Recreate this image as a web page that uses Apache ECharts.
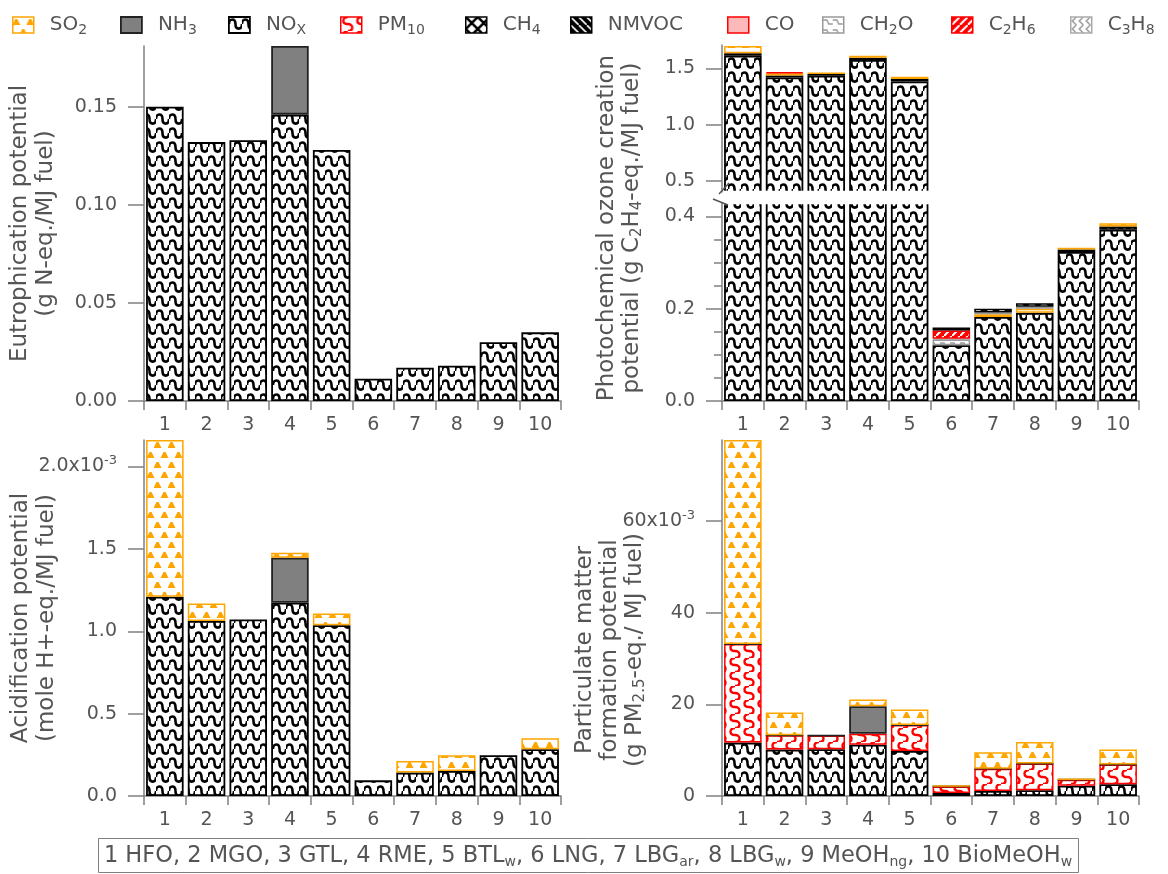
<!DOCTYPE html>
<html>
<head>
<meta charset="utf-8">
<script src="https://cdn.jsdelivr.net/npm/echarts@6.0.0/dist/echarts.min.js"></script>
<style>
html,body{margin:0;padding:0;background:#fff;}
#chart{width:1168px;height:874px;}
</style>
</head>
<body>
<div id="chart"></div>
<script>
// ---------------- data ----------------
const categories = ['1','2','3','4','5','6','7','8','9','10'];
const fuelNames = ['HFO','MGO','GTL','RME','BTL{s|w}','LNG','LBG{s|ar}','LBG{s|w}','MeOH{s|ng}','BioMeOH{s|w}'];

// Eutrophication potential (g N-eq./MJ fuel)
const epNOx = [0.150,0.132,0.133,0.146,0.128,0.0114,0.017,0.018,0.030,0.035];
const epNH3 = [null,null,null,0.035,null,null,null,null,null,null];

// Photochemical ozone creation potential (g C2H4-eq./MJ fuel)
const pocpNOx   = [1.613,1.420,1.435,1.575,1.385,0.121,0.182,0.191,0.323,0.371];
const pocpNMVOC = [0.022,0.018,0.015,0.020,0.022,null,null,null,0.005,0.007];
const pocpSO2   = [0.065,0.020,0.015,0.018,0.020,null,0.006,0.009,0.004,0.007];
const pocpCO    = [null,0.010,null,null,null,null,null,null,null,null];
const pocpCH2O  = [null,null,null,null,null,0.012,0.004,0.004,null,null];
const pocpC3H8  = [null,null,null,null,null,0.002,null,null,null,null];
const pocpC2H6  = [null,null,null,null,null,0.018,null,null,null,null];
const pocpCH4   = [null,null,null,null,null,0.006,0.008,0.008,null,null];

// Acidification potential (x10^-3 mole H+-eq./MJ fuel)
const apNOx = [1.210,1.063,1.072,1.173,1.037,0.095,0.142,0.152,0.247,0.284];
const apNH3 = [null,null,null,0.273,null,null,null,null,null,null];
const apSO2 = [0.951,0.106,null,0.030,0.071,null,0.071,0.095,null,0.066];

// Particulate matter formation potential (x10^-3 g PM2.5-eq./MJ fuel)
const pmNOx  = [11.66,10.13,10.20,11.20,9.84,0.66,1.09,1.24,2.26,2.55];
const pmPM10 = [21.49,3.13,2.99,2.40,5.66,1.44,4.88,5.83,1.31,4.30];
const pmNH3  = [0,0,0,6.00,0,0,0,0,0,0];
const pmSO2  = [44.55,4.94,null,1.45,3.40,0.16,3.57,4.73,0.13,3.28];

// tick labels
const epTicks = [0, 0.05, 0.10, 0.15];
const pocpUpperTicks = [0.5, 1.0, 1.5];
const pocpLowerTicks = [0, 0.2, 0.4];
const apTicks = [0, 0.5, 1.0, 1.5, 2.0];
const pmTicks = [0, 20, 40, 60];

const legendOrder = ['SO2','NH3','NOx','PM10','CH4','NMVOC','CO','CH2O','C2H6','C3H8'];
const legendLabels = {SO2:'SO{s|2}', NH3:'NH{s|3}', NOx:'NO{s|X}', PM10:'PM{s|10}', CH4:'CH{s|4}',
  NMVOC:'NMVOC', CO:'CO', CH2O:'CH{s|2}O', C2H6:'C{s|2}H{s|6}', C3H8:'C{s|3}H{s|8}'};

// ---------------- styles ----------------
const FONT = 'DejaVu Sans';
const TXT = '#555555';
const AX = '#808080';
const ORANGE = '#FFA500';
const RED = '#FF0000';

function tile(w, h, bg, draw) {
  const c = document.createElement('canvas');
  c.width = w; c.height = h;
  const g = c.getContext('2d');
  if (bg) { g.fillStyle = bg; g.fillRect(0, 0, w, h); }
  draw(g, w, h);
  return {image: c, repeat: 'repeat'};
}
const PAT = {
  NOx: tile(13, 14, '#fff', g => {
    g.strokeStyle = '#000'; g.lineWidth = 2.6; g.beginPath();
    g.moveTo(0, 7);
    g.bezierCurveTo(0, 0.9, 6.5, 0.9, 6.5, 7);
    g.bezierCurveTo(6.5, 13.1, 13, 13.1, 13, 7);
    g.stroke();
  }),
  PM10: tile(14, 14, '#fff', g => {
    g.strokeStyle = RED; g.lineWidth = 2.4; g.beginPath();
    g.moveTo(7, 0);
    g.bezierCurveTo(1, 0, 1, 7, 7, 7);
    g.bezierCurveTo(13, 7, 13, 14, 7, 14);
    g.stroke();
  }),
  SO2: tile(14, 20, '#fff', g => {
    g.fillStyle = ORANGE;
    const tri = (cx, ty) => { g.beginPath(); g.moveTo(cx - 4, ty + 6); g.lineTo(cx - 1, ty); g.lineTo(cx + 1, ty); g.lineTo(cx + 4, ty + 6); g.closePath(); g.fill(); };
    tri(3.5, 2); tri(10.5, 12); tri(-3.5, 12); tri(17.5, 12);
  }),
  NH3: '#808080',
  CH4: tile(12, 12, '#fff', g => {
    g.strokeStyle = '#000'; g.lineWidth = 2.6; g.beginPath();
    g.moveTo(-1, -1); g.lineTo(13, 13); g.moveTo(13, -1); g.lineTo(-1, 13); g.stroke();
  }),
  NMVOC: tile(8, 8, '#000', g => {
    g.strokeStyle = '#fff'; g.lineWidth = 1.6; g.beginPath();
    g.moveTo(-1, -1); g.lineTo(9, 9); g.stroke();
  }),
  CO: '#FBB9B9',
  CH2O: tile(10, 10, '#fff', g => {
    g.strokeStyle = '#999'; g.lineWidth = 1.5; g.beginPath();
    g.moveTo(0, 3); g.lineTo(4, 3); g.lineTo(6, 7); g.lineTo(10, 7); g.stroke();
  }),
  C2H6: tile(8, 8, RED, g => {
    g.strokeStyle = '#fff'; g.lineWidth = 2; g.beginPath();
    g.moveTo(-1, 9); g.lineTo(9, -1); g.stroke();
  }),
  C3H8: tile(7, 8, '#fff', g => {
    g.strokeStyle = '#999'; g.lineWidth = 1.5; g.beginPath();
    g.moveTo(5.5, 0); g.lineTo(1.5, 4); g.lineTo(5.5, 8); g.stroke();
  })
};
const STYLE = {
  SO2:  {fill: PAT.SO2,  stroke: ORANGE, w: 1.5},
  NH3:  {fill: PAT.NH3,  stroke: '#222', w: 1.8},
  NOx:  {fill: PAT.NOx,  stroke: '#000', w: 1.8},
  PM10: {fill: PAT.PM10, stroke: RED, w: 1.5},
  CH4:  {fill: PAT.CH4,  stroke: '#000', w: 1.5},
  NMVOC:{fill: PAT.NMVOC,stroke: '#000', w: 1.5},
  CO:   {fill: PAT.CO,   stroke: RED, w: 1.5},
  CH2O: {fill: PAT.CH2O, stroke: '#999', w: 1.5},
  C2H6: {fill: PAT.C2H6, stroke: RED, w: 1.5},
  C3H8: {fill: PAT.C3H8, stroke: '#aaa', w: 1.5}
};

// ---------------- layout ----------------
const LX = 144, RX = 722, GW = 417;
const grids = [
  {left: LX, top: 46, width: GW, height: 355},   // 0 eutrophication
  {left: RX, top: 45, width: GW, height: 147},   // 1 POCP upper segment
  {left: RX, top: 203, width: GW, height: 198},  // 2 POCP lower segment
  {left: LX, top: 440, width: GW, height: 356},  // 3 acidification
  {left: RX, top: 440, width: GW, height: 356},  // 4 particulate matter
  {left: RX, top: 55, width: GW, height: 346},   // 5 holder for POCP title
  {left: RX, top: 440, width: GW, height: 420}   // 6 holder for PM title
].map(g => Object.assign({outerBoundsMode: 'none', containLabel: false}, g));

const subRich = {s: {fontSize: 15, lineHeight: 15, verticalAlign: 'bottom', color: TXT, fontFamily: FONT}};
function nameStyle(lh) { return {color: TXT, fontFamily: FONT, fontSize: 23, lineHeight: lh, rich: subRich}; }

function xAx(gi, show) {
  return {
    gridIndex: gi, type: 'category', data: categories, show: show,
    axisLine: {show: true, onZero: false, lineStyle: {color: AX, width: 1.5}},
    axisTick: {show: true, length: 9, interval: 0, lineStyle: {color: AX, width: 1.5}},
    axisLabel: {show: true, interval: 0, margin: 15, color: TXT, fontFamily: FONT, fontSize: 19},
    splitLine: {show: false}
  };
}
function yAx(gi, min, max, ticks, fmt, extra) {
  return Object.assign({
    gridIndex: gi, type: 'value', min: min, max: max, nameMoveOverlap: false,
    axisLine: {show: true, lineStyle: {color: AX, width: 1.5}},
    axisTick: {show: true, length: 16, customValues: ticks, lineStyle: {color: AX, width: 1.5}},
    axisLabel: {customValues: ticks, formatter: fmt, margin: 27, color: TXT, fontFamily: FONT, fontSize: 19, lineHeight: 24,
      rich: {sup: {fontSize: 13, lineHeight: 13, verticalAlign: 'top', color: TXT, fontFamily: FONT}}},
    splitLine: {show: false}
  }, extra || {});
}
function holderY(gi, name, gap, lh) {
  return {gridIndex: gi, type: 'value', min: 0, max: 1, nameMoveOverlap: false,
    axisLine: {show: false}, axisTick: {show: false}, axisLabel: {show: false}, splitLine: {show: false},
    name: name, nameLocation: 'middle', nameRotate: 90, nameGap: gap, nameTextStyle: nameStyle(lh)};
}
function holderX(gi) {
  return {gridIndex: gi, type: 'category', data: categories, show: false};
}

const xAxis = [xAx(0, true), xAx(1, false), xAx(2, true), xAx(3, true), xAx(4, true), holderX(5), holderX(6)];
const yAxis = [
  yAx(0, 0, 0.181, epTicks, v => v.toFixed(2), {
    name: 'Eutrophication potential\n(g N-eq./MJ fuel)', nameLocation: 'middle', nameRotate: 90, nameGap: 85, nameTextStyle: nameStyle(26)}),
  yAx(1, 0.40, 1.709, pocpUpperTicks, v => v.toFixed(1)),
  yAx(2, 0, 0.429, pocpLowerTicks, v => v.toFixed(1), {interval: 0.2,
    minorTick: {show: true, splitNumber: 4, length: 8, lineStyle: {color: AX, width: 1.5}}}),
  yAx(3, 0, 2.161, apTicks, v => (v === 2 ? '2.0x10{sup|-3}' : v.toFixed(1)), {
    name: 'Acidification potential\n(mole H+-eq./MJ fuel)', nameLocation: 'middle', nameRotate: 90, nameGap: 84, nameTextStyle: nameStyle(26)}),
  yAx(4, 0, 77.7, pmTicks, v => (v === 60 ? '60x10{sup|-3}' : String(v))),
  holderY(5, 'Photochemical ozone creation\npotential (g C{s|2}H{s|4}-eq./MJ fuel)', 77, 25),
  holderY(6, 'Particulate matter\nformation potential\n(g PM{s|2.5}-eq./ MJ fuel)', 74, 25)
];

function mk(name, data, gi) {
  const st = STYLE[name];
  return {type: 'bar', name: name, data: data, xAxisIndex: gi, yAxisIndex: gi, stack: 'st' + gi,
    barCategoryGap: '10%', clip: true, silent: true,
    itemStyle: {color: st.fill, borderColor: st.stroke, borderWidth: st.w},
    emphasis: {disabled: true}};
}
const panels = [
  {gi: [0], list: [['NOx', epNOx], ['NH3', epNH3]]},
  {gi: [1, 2], list: [['NOx', pocpNOx], ['NMVOC', pocpNMVOC], ['SO2', pocpSO2], ['CO', pocpCO],
      ['CH2O', pocpCH2O], ['C3H8', pocpC3H8], ['C2H6', pocpC2H6], ['CH4', pocpCH4]]},
  {gi: [3], list: [['NOx', apNOx], ['NH3', apNH3], ['SO2', apSO2]]},
  {gi: [4], list: [['NOx', pmNOx], ['PM10', pmPM10], ['NH3', pmNH3], ['SO2', pmSO2]]}
];
const series = [];
panels.forEach(p => p.gi.forEach(gi => p.list.forEach(([n, d]) => series.push(mk(n, d, gi)))));

const legendLeft = [12, 120, 228, 340, 465, 570, 727, 822, 951, 1070];
const legend = legendOrder.map((n, i) => ({
  data: [{name: n, itemStyle: {color: STYLE[n].fill, borderColor: STYLE[n].stroke, borderWidth: STYLE[n].w}}],
  left: legendLeft[i], top: 13, padding: 0, itemWidth: 21, itemHeight: 16, icon: 'rect',
  selectedMode: false, formatter: () => legendLabels[n],
  textStyle: {color: TXT, fontFamily: FONT, fontSize: 20, lineHeight: 24, padding: [0, 0, 0, 11],
    rich: {s: {fontSize: 14, lineHeight: 16, verticalAlign: 'bottom', color: TXT, fontFamily: FONT}}}
}));

// fuel key text
const boxText = categories.map((c, i) => c + ' ' + fuelNames[i]).join(', ');
const up = grids[1], lo = grids[2];
const upBottom = up.top + up.height, loTop = lo.top;
const graphic = [
  {type: 'rect', z: 50, silent: true,
    shape: {x: RX + 1, y: upBottom - 1.2, width: GW + 2, height: loTop - upBottom + 2.4},
    style: {fill: '#fff', stroke: null}},
  {type: 'line', z: 51, silent: true, shape: {x1: RX - 3, y1: upBottom + 2, x2: RX + 7, y2: upBottom - 9},
    style: {stroke: '#555', lineWidth: 1.5}},
  {type: 'line', z: 51, silent: true, shape: {x1: RX - 9, y1: loTop - 4, x2: RX + 6, y2: loTop + 2},
    style: {stroke: '#555', lineWidth: 1.5}},
  {type: 'rect', silent: true, shape: {x: 98.5, y: 838.5, width: 980, height: 34},
    style: {fill: 'none', stroke: '#7f7f7f', lineWidth: 1}},
  {type: 'text', silent: true, x: 588, y: 856,
    style: {text: boxText, align: 'center', verticalAlign: 'middle', fill: TXT, fontFamily: FONT, fontSize: 22.5, lineHeight: 26,
      rich: {s: {fontSize: 14, lineHeight: 14, verticalAlign: 'bottom', fill: TXT, fontFamily: FONT}}}}
];

const chart = echarts.init(document.getElementById('chart'), null, {renderer: 'canvas', width: 1168, height: 874});
chart.setOption({
  animation: false,
  backgroundColor: '#fff',
  textStyle: {fontFamily: FONT},
  grid: grids, xAxis: xAxis, yAxis: yAxis, legend: legend, series: series, graphic: graphic
});
</script>
</body>
</html>
